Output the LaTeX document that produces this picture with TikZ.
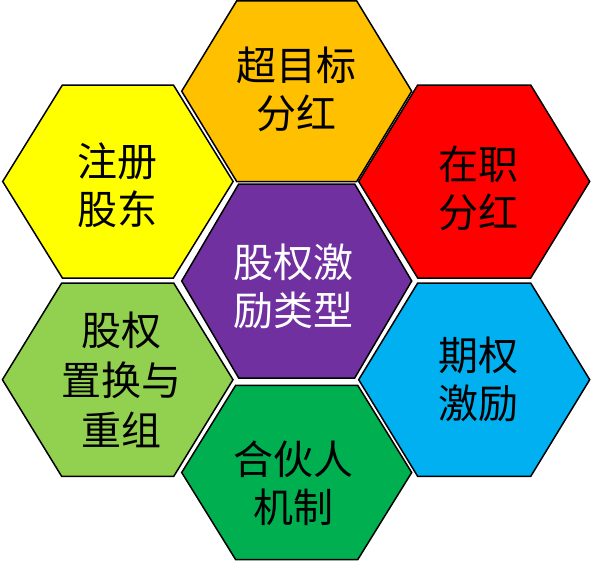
\documentclass[tikz,border=0pt]{standalone}
\usepackage{fontspec}
\newfontfamily\cjk{Noto Sans CJK SC}
\definecolor{cOrange}{HTML}{FFC000}
\definecolor{cRed}{HTML}{FF0000}
\definecolor{cYellow}{HTML}{FFFF00}
\definecolor{cPurple}{HTML}{7030A0}
\definecolor{cLGreen}{HTML}{92D050}
\definecolor{cBlue}{HTML}{00B0F0}
\definecolor{cDGreen}{HTML}{00B050}
\newcommand\myhex[7]{% name, fill, cx, cy, a, b, h
  \filldraw[hexline,fill=#2] (#3-#5,#4) -- (#3-#6,#4-#7) -- (#3+#6,#4-#7)
    -- (#3+#5,#4) -- (#3+#6,#4+#7) -- (#3-#6,#4+#7) -- cycle;
  \coordinate (#1) at (#3,#4);}
\tikzset{
  hexline/.style={draw=black,line width=1.5pt,line join=miter},
  hextext/.style={align=center,inner sep=0pt,font=\cjk\fontsize{40}{48}\selectfont}
}
\begin{document}
\begin{tikzpicture}[x=1pt,y=-1pt]
\useasboundingbox (0,0) rectangle (592,562);
\myhex{hOrange}{cOrange}{296.7}{91.2}{115}{60}{90.3}
\myhex{hYellow}{cYellow}{117.9}{181.5}{115.2}{55.5}{96.5}
\myhex{hRed}{cRed}{474.2}{181.5}{115.5}{56.5}{96.5}
\myhex{hLGreen}{cLGreen}{117.7}{379.7}{115.3}{56}{96.7}
\myhex{hBlue}{cBlue}{474.2}{379.7}{115.5}{56.5}{96.7}
\myhex{hDGreen}{cDGreen}{296.7}{472.5}{115}{61}{87.2}
\myhex{hPurple}{cPurple}{296.7}{281}{115}{58}{97}

\node[hextext] (tOrange) at (296,89) {超目标\\分红};
\node[hextext] (tYellow) at (117,185) {注册\\股东};
\node[hextext] (tRed) at (478,188) {在职\\分红};
\node[hextext,text=white] (tPurple) at (293,286) {股权激\\励类型};
\node[hextext,font=\cjk\fontsize{40}{50}\selectfont] (tLGreen) at (121,380) {股权\\置换与\\重组};
\node[hextext] (tBlue) at (478,379) {期权\\激励};
\node[hextext] (tDGreen) at (293,483) {合伙人\\机制};
\end{tikzpicture}
\end{document}
